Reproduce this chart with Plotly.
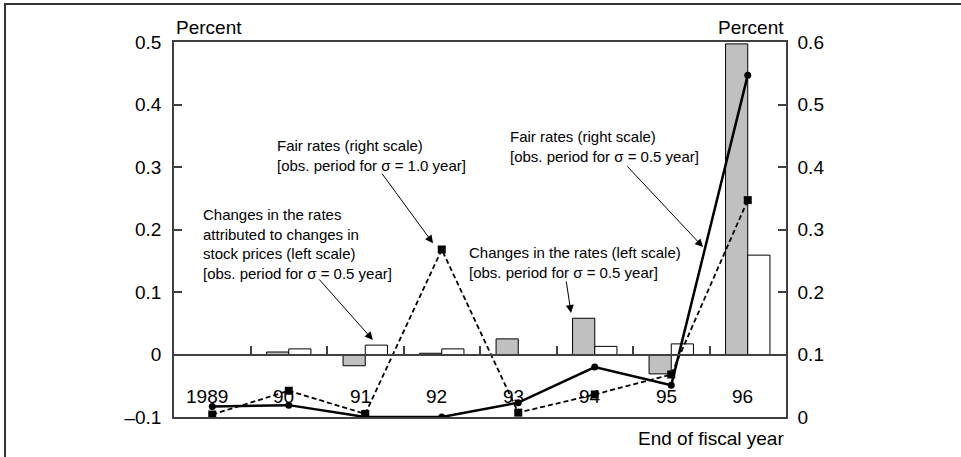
import plotly.graph_objects as go

# ---------------- data ----------------
years = ["1989", "90", "91", "92", "93", "94", "95", "96"]
chg_rates = [0.0, 0.004, -0.018, 0.002, 0.025, 0.058, -0.031, 0.497]   # left scale, gray
chg_stock = [0.0, 0.009, 0.015, 0.009, 0.0, 0.013, 0.017, 0.159]       # left scale, white
fair_05 = [0.017, 0.019, 0.0, 0.0, 0.023, 0.080, 0.051, 0.547]          # right scale, solid
fair_10 = [0.004, 0.042, 0.005, 0.268, 0.007, 0.036, 0.068, 0.347]      # right scale, dashed

left_ticks = [-0.1, 0, 0.1, 0.2, 0.3, 0.4, 0.5]
left_labels = ["\u20130.1", "0", "0.1", "0.2", "0.3", "0.4", "0.5"]
right_ticks = [0, 0.1, 0.2, 0.3, 0.4, 0.5, 0.6]
right_labels = ["0", "0.1", "0.2", "0.3", "0.4", "0.5", "0.6"]

pos = list(range(len(years)))
boundaries = [p + 0.5 for p in pos[:-1]]

FONT = "Liberation Sans, Arial, sans-serif"
AX = "#404040"
BW = 0.29

fig = go.Figure()
fig.add_trace(go.Bar(x=pos, y=chg_rates, width=BW, offset=-BW,
                     marker=dict(color="#c0c0c0", line=dict(color="black", width=1)),
                     yaxis="y", xaxis="x", showlegend=False))
fig.add_trace(go.Bar(x=pos, y=chg_stock, width=BW, offset=0,
                     marker=dict(color="white", line=dict(color="black", width=1)),
                     yaxis="y", xaxis="x", showlegend=False))
fig.add_trace(go.Scatter(x=pos, y=fair_10, mode="lines+markers", yaxis="y2", xaxis="x",
                         line=dict(color="black", width=1.8, dash="5px,3px"),
                         marker=dict(symbol="square", size=8, color="black"),
                         showlegend=False))
fig.add_trace(go.Scatter(x=pos, y=fair_05, mode="lines+markers", yaxis="y2", xaxis="x",
                         line=dict(color="black", width=2.5),
                         marker=dict(symbol="circle", size=7, color="black"),
                         showlegend=False))
# dummy trace so the zero-line axis is drawn
fig.add_trace(go.Scatter(x=[], y=[], xaxis="x2", yaxis="y", showlegend=False))

xr = [-0.5, len(years) - 0.5]
fig.update_layout(
    width=961, height=457,
    margin=dict(l=174, r=175, t=41.5, b=40),
    paper_bgcolor="white", plot_bgcolor="white",
    font=dict(family=FONT, size=19, color="black"),
    barmode="overlay",
    xaxis=dict(range=xr, showgrid=False, zeroline=False, showline=True,
               linecolor=AX, linewidth=1.5, mirror=True, ticks="",
               showticklabels=False),
    xaxis2=dict(range=xr, overlaying="x", anchor="free", position=1/6, side="top",
                showgrid=False, zeroline=False, showline=True, linecolor=AX,
                linewidth=1.5, ticks="outside", ticklen=8, tickcolor=AX,
                tickwidth=1.5, tickmode="array", tickvals=boundaries,
                showticklabels=False),
    yaxis=dict(range=[-0.1, 0.5], domain=[0, 1], showgrid=False, zeroline=False,
               showline=True, linecolor=AX, linewidth=1.5, ticks="inside",
               ticklen=8, tickcolor=AX, tickwidth=1.5, tickmode="array",
               tickvals=left_ticks, ticktext=left_labels, ticklabelstandoff=7),
    yaxis2=dict(range=[0, 0.6], overlaying="y", side="right", showgrid=False,
                zeroline=False, showline=True, linecolor=AX, linewidth=1.5,
                ticks="inside", ticklen=8, tickcolor=AX, tickwidth=1.5,
                tickmode="array", tickvals=right_ticks, ticktext=right_labels,
                ticklabelstandoff=6),
)

# category labels
for p, lab in zip(pos, years):
    fig.add_annotation(x=p, y=-0.067, xref="x", yref="y", text=lab, showarrow=False,
                       xshift=-5, font=dict(size=19), xanchor="center", yanchor="middle")

# axis titles
fig.add_annotation(x=0, y=1.039, xref="paper", yref="paper", text="Percent",
                   showarrow=False, xanchor="left", yanchor="middle", font=dict(size=19))
fig.add_annotation(x=1, y=1.039, xref="paper", yref="paper", text="Percent",
                   showarrow=False, xanchor="right", yanchor="middle", font=dict(size=19))
fig.add_annotation(x=1, y=-0.056, xref="paper", yref="paper", text="End of fiscal year",
                   showarrow=False, xanchor="right", yanchor="middle", font=dict(size=19))

# text notes
notes = [
    (0.82, 0.351, "Fair rates (right scale)<br>[obs. period for \u03c3 = 1.0 year]"),
    (-0.147, 0.2407, "Changes in the rates<br>attributed to changes in<br>stock prices (left scale)<br>[obs. period for \u03c3 = 0.5 year]"),
    (3.33, 0.1807, "Changes in the rates (left scale)<br>[obs. period for \u03c3 = 0.5 year]"),
    (3.866, 0.365, "Fair rates (right scale)<br>[obs. period for \u03c3 = 0.5 year]"),
]
for x, y, t in notes:
    fig.add_annotation(x=x, y=y, xref="x", yref="y", text=t, showarrow=False,
                       xanchor="left", yanchor="top", align="left", font=dict(size=15))

# arrows (tip in data coords, tail offset in px)
arrows = [
    (2.886, 0.178, -52, -71),
    (6.415, 0.172, -77, -82),
    (2.10, 0.0233, -55, -62),
    (4.69, 0.0665, -5, -33),
]
for x, y, ax, ay in arrows:
    fig.add_annotation(x=x, y=y, xref="x", yref="y", text="", showarrow=True,
                       ax=ax, ay=ay, arrowhead=2, arrowsize=1.6, arrowwidth=1,
                       arrowcolor="black", standoff=0)

# outer frame
fig.add_shape(type="rect", xref="paper", yref="paper",
              x0=-0.2761, x1=1.35, y0=-0.25, y1=1.1012,
              line=dict(color="#333333", width=2), fillcolor="rgba(0,0,0,0)")

fig.write_html("out.html", config={"displayModeBar": False},
               post_script="document.body.style.margin='0px';document.body.style.overflow='hidden';")
